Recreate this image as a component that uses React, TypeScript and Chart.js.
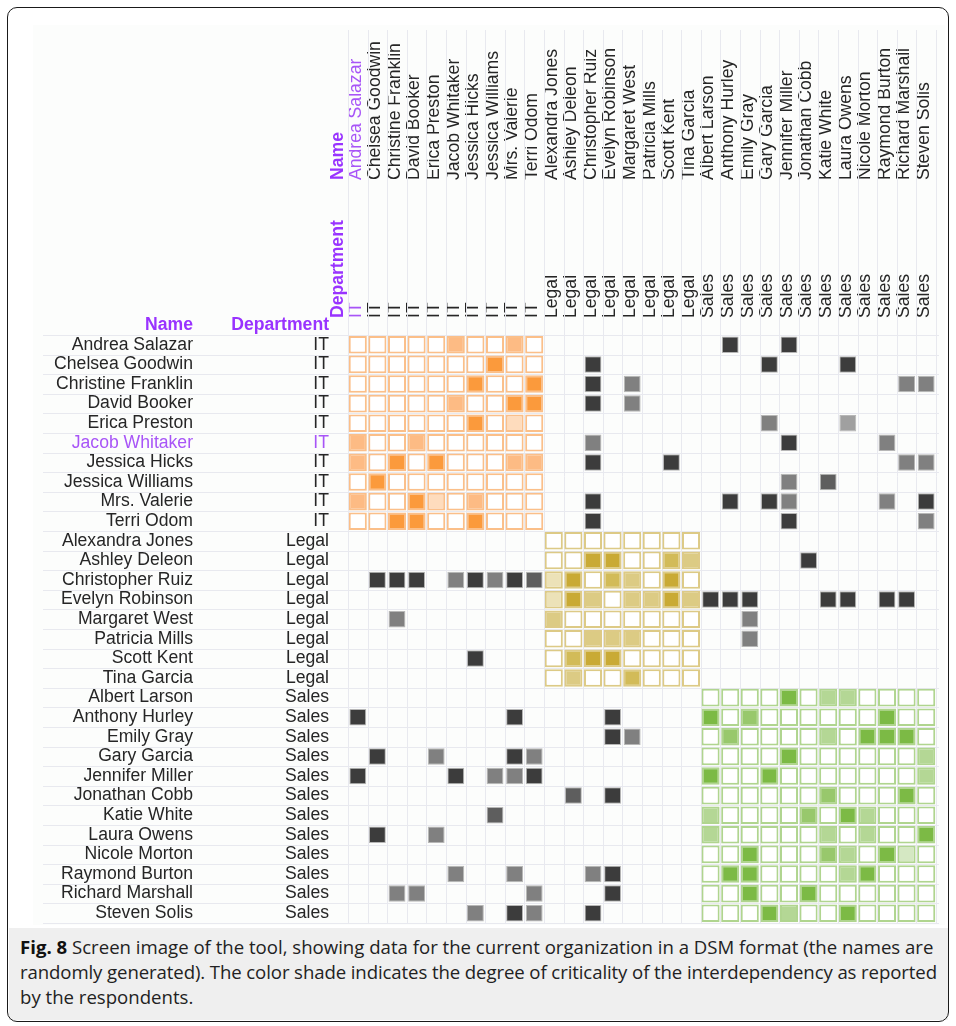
import React, { useEffect, useRef } from 'react';
import { Chart, registerables } from 'chart.js';

Chart.register(...registerables);

// ---------- people ----------
const itNames = [
  'Andrea Salazar', 'Chelsea Goodwin', 'Christine Franklin', 'David Booker', 'Erica Preston',
  'Jacob Whitaker', 'Jessica Hicks', 'Jessica Williams', 'Mrs. Valerie', 'Terri Odom',
];
const legalNames = [
  'Alexandra Jones', 'Ashley Deleon', 'Christopher Ruiz', 'Evelyn Robinson',
  'Margaret West', 'Patricia Mills', 'Scott Kent', 'Tina Garcia',
];
const salesNames = [
  'Albert Larson', 'Anthony Hurley', 'Emily Gray', 'Gary Garcia', 'Jennifer Miller', 'Jonathan Cobb',
  'Katie White', 'Laura Owens', 'Nicole Morton', 'Raymond Burton', 'Richard Marshall', 'Steven Solis',
];

const names = [...itNames, ...legalNames, ...salesNames];
const departments = [
  ...itNames.map(() => 'IT'),
  ...legalNames.map(() => 'Legal'),
  ...salesNames.map(() => 'Sales'),
];

// criticality 0 (none) .. 4 (highest); columns follow `names`
//                IT: 0 1 2 3 4 5 6 7 8 9   Legal: 0 1 2 3 4 5 6 7   Sales: 0 1 2 3 4 5 6 7 8 9 10 11
const itRows = [
  [0, 0, 0, 0, 0, 2, 0, 0, 2, 0, 0, 0, 0, 0, 0, 0, 0, 0, 0, 4, 0, 0, 4, 0, 0, 0, 0, 0, 0, 0],
  [0, 0, 0, 0, 0, 0, 0, 4, 0, 0, 0, 0, 4, 0, 0, 0, 0, 0, 0, 0, 0, 4, 0, 0, 0, 4, 0, 0, 0, 0],
  [0, 0, 0, 0, 0, 0, 4, 0, 0, 4, 0, 0, 4, 0, 2, 0, 0, 0, 0, 0, 0, 0, 0, 0, 0, 0, 0, 0, 2, 2],
  [0, 0, 0, 0, 0, 2, 0, 0, 4, 4, 0, 0, 4, 0, 2, 0, 0, 0, 0, 0, 0, 0, 0, 0, 0, 0, 0, 0, 0, 0],
  [0, 0, 0, 0, 0, 0, 4, 0, 1, 0, 0, 0, 0, 0, 0, 0, 0, 0, 0, 0, 0, 2, 0, 0, 0, 1, 0, 0, 0, 0],
  [2, 0, 0, 2, 0, 0, 0, 0, 0, 0, 0, 0, 2, 0, 0, 0, 0, 0, 0, 0, 0, 0, 4, 0, 0, 0, 0, 2, 0, 0],
  [2, 0, 4, 0, 4, 0, 0, 0, 2, 2, 0, 0, 4, 0, 0, 0, 4, 0, 0, 0, 0, 0, 0, 0, 0, 0, 0, 0, 2, 2],
  [0, 4, 0, 0, 0, 0, 0, 0, 0, 0, 0, 0, 0, 0, 0, 0, 0, 0, 0, 0, 0, 0, 2, 0, 3, 0, 0, 0, 0, 0],
  [2, 0, 0, 4, 1, 0, 2, 0, 0, 0, 0, 0, 4, 0, 0, 0, 0, 0, 0, 4, 0, 4, 2, 0, 0, 0, 0, 2, 0, 4],
  [0, 0, 4, 4, 0, 0, 4, 0, 0, 0, 0, 0, 4, 0, 0, 0, 0, 0, 0, 0, 0, 0, 4, 0, 0, 0, 0, 0, 0, 2],
];
const legalRows = [
  [0, 0, 0, 0, 0, 0, 0, 0, 0, 0, 0, 0, 0, 0, 0, 0, 0, 0, 0, 0, 0, 0, 0, 0, 0, 0, 0, 0, 0, 0],
  [0, 0, 0, 0, 0, 0, 0, 0, 0, 0, 0, 0, 4, 4, 0, 0, 3, 2, 0, 0, 0, 0, 0, 4, 0, 0, 0, 0, 0, 0],
  [0, 4, 4, 4, 0, 2, 4, 2, 4, 3, 1, 4, 0, 3, 2, 0, 4, 0, 0, 0, 0, 0, 0, 0, 0, 0, 0, 0, 0, 0],
  [0, 0, 0, 0, 0, 0, 0, 0, 0, 0, 1, 4, 2, 0, 2, 2, 4, 2, 4, 4, 4, 0, 0, 0, 4, 4, 0, 4, 4, 0],
  [0, 0, 2, 0, 0, 0, 0, 0, 0, 0, 2, 0, 0, 0, 0, 0, 0, 0, 0, 0, 2, 0, 0, 0, 0, 0, 0, 0, 0, 0],
  [0, 0, 0, 0, 0, 0, 0, 0, 0, 0, 0, 0, 2, 2, 2, 0, 0, 0, 0, 0, 2, 0, 0, 0, 0, 0, 0, 0, 0, 0],
  [0, 0, 0, 0, 0, 0, 4, 0, 0, 0, 0, 3, 4, 4, 0, 0, 0, 0, 0, 0, 0, 0, 0, 0, 0, 0, 0, 0, 0, 0],
  [0, 0, 0, 0, 0, 0, 0, 0, 0, 0, 0, 2, 0, 0, 3, 0, 0, 0, 0, 0, 0, 0, 0, 0, 0, 0, 0, 0, 0, 0],
];
const salesRows = [
  [0, 0, 0, 0, 0, 0, 0, 0, 0, 0, 0, 0, 0, 0, 0, 0, 0, 0, 0, 0, 0, 0, 4, 0, 2, 2, 0, 0, 0, 0],
  [4, 0, 0, 0, 0, 0, 0, 0, 4, 0, 0, 0, 0, 4, 0, 0, 0, 0, 4, 0, 3, 0, 0, 0, 0, 0, 0, 4, 0, 0],
  [0, 0, 0, 0, 0, 0, 0, 0, 0, 0, 0, 0, 0, 4, 2, 0, 0, 0, 0, 3, 0, 0, 0, 0, 2, 0, 4, 4, 4, 0],
  [0, 4, 0, 0, 2, 0, 0, 0, 4, 2, 0, 0, 0, 0, 0, 0, 0, 0, 0, 0, 0, 0, 4, 0, 0, 0, 0, 0, 0, 2],
  [4, 0, 0, 0, 0, 4, 0, 2, 2, 4, 0, 0, 0, 0, 0, 0, 0, 0, 4, 0, 0, 4, 0, 0, 0, 0, 0, 0, 0, 2],
  [0, 0, 0, 0, 0, 0, 0, 0, 0, 0, 0, 3, 0, 4, 0, 0, 0, 0, 0, 0, 0, 0, 0, 0, 3, 0, 0, 0, 4, 0],
  [0, 0, 0, 0, 0, 0, 0, 3, 0, 0, 0, 0, 0, 0, 0, 0, 0, 0, 2, 0, 0, 0, 0, 3, 0, 4, 2, 0, 0, 0],
  [0, 4, 0, 0, 2, 0, 0, 0, 0, 0, 0, 0, 0, 0, 0, 0, 0, 0, 2, 0, 0, 0, 0, 0, 2, 0, 2, 0, 0, 4],
  [0, 0, 0, 0, 0, 0, 0, 0, 0, 0, 0, 0, 0, 0, 0, 0, 0, 0, 0, 0, 4, 0, 0, 0, 3, 2, 0, 4, 1, 0],
  [0, 0, 0, 0, 0, 2, 0, 0, 2, 0, 0, 0, 2, 4, 0, 0, 0, 0, 0, 4, 4, 0, 0, 0, 0, 2, 4, 0, 0, 0],
  [0, 0, 2, 2, 0, 0, 0, 0, 0, 2, 0, 0, 0, 4, 0, 0, 0, 0, 0, 0, 4, 0, 0, 4, 0, 0, 0, 0, 0, 0],
  [0, 0, 0, 0, 0, 0, 2, 0, 4, 2, 0, 0, 4, 0, 0, 0, 0, 0, 0, 0, 0, 4, 2, 0, 0, 4, 0, 0, 0, 0],
];

const highlightedRow = 'Jacob Whitaker';
const highlightedColumn = 'Andrea Salazar';

// ---------- styling ----------
const FONT = "'Liberation Sans', Arial, sans-serif";
const FONT_SIZE = 17.6;
const TEXT = '#262626';
const HILITE = '#a855f7';
const HEADER = '#9933ff';
const GRID = '#e8e9ef';

const blockFill: Record<string, string[]> = {
  IT: ['#ffffff', '#fedcbd', '#fdbb84', '#fca866', '#fb9a3c'],
  Legal: ['#ffffff', '#ece2b8', '#dccb84', '#d2bb58', '#c9aa35'],
  Sales: ['#ffffff', '#d5e8c3', '#b4d795', '#98c86c', '#7cba45'],
};
const blockBorder: Record<string, string> = {
  IT: 'rgba(250,150,60,0.6)',
  Legal: 'rgba(200,168,55,0.6)',
  Sales: 'rgba(125,186,70,0.6)',
};
const crossFill = ['#ffffff', '#a0a0a0', '#808080', '#5e5e5e', '#3c3c3c'];

const matrix = [...itRows, ...legalRows, ...salesRows];

type Cell = { x: string; y: [number, number]; v: number; d: string };
const blockCells: Cell[] = [];
const crossCells: Cell[] = [];
matrix.forEach((row, r) => {
  row.forEach((v, c) => {
    if (departments[r] === departments[c]) {
      blockCells.push({ x: names[c], y: [r + 0.05, r + 0.95], v, d: departments[r] });
    } else if (v > 0) {
      crossCells.push({ x: names[c], y: [r + 0.08, r + 0.92], v, d: departments[r] });
    }
  });
});

const gridPlugin = {
  id: 'dsmGrid',
  beforeDatasetsDraw(chart: any) {
    const { ctx, chartArea } = chart;
    const xs = chart.scales.x;
    const ys = chart.scales.y;
    ctx.save();
    ctx.strokeStyle = GRID;
    ctx.lineWidth = 1;
    ctx.beginPath();
    for (let k = 0; k <= names.length; k++) {
      const px = Math.round(xs.getPixelForValue(k - 0.5)) + 0.5;
      ctx.moveTo(px, 5);
      ctx.lineTo(px, chartArea.bottom);
      const py = Math.round(ys.getPixelForValue(k)) + 0.5;
      ctx.moveTo(10, py);
      ctx.lineTo(chartArea.right + 3, py);
    }
    ctx.stroke();
    ctx.restore();
  },
  afterDraw(chart: any) {
    const { ctx, chartArea } = chart;
    const yName = chart.scales.y;
    const yDept = chart.scales.yDept;
    const xName = chart.scales.x;
    const xDept = chart.scales.xDept;
    ctx.save();
    ctx.fillStyle = HEADER;
    ctx.font = `bold ${FONT_SIZE}px ${FONT}`;
    ctx.textBaseline = 'middle';
    ctx.textAlign = 'right';
    const hy = chartArea.top - 10;
    ctx.fillText('Name', yName.right - 4, hy);
    ctx.fillText('Department', yDept.right - 19, hy);
    // rotated headers, left of the first column
    const rx = chartArea.left - 10;
    ctx.textAlign = 'left';
    ctx.save();
    ctx.translate(rx, xName.bottom - 5);
    ctx.rotate(-Math.PI / 2);
    ctx.fillText('Name', 0, 0);
    ctx.restore();
    ctx.save();
    ctx.translate(rx, xDept.bottom - 17);
    ctx.rotate(-Math.PI / 2);
    ctx.fillText('Department', 0, 0);
    ctx.restore();
    ctx.restore();
  },
};

export default function App() {
  const ref = useRef<HTMLCanvasElement>(null);

  useEffect(() => {
    if (!ref.current) return;
    const tickFont = { family: FONT, size: FONT_SIZE };
    const noPad = (s: any) => {
      s.paddingTop = 0;
      s.paddingBottom = 0;
    };
    const chart = new Chart(ref.current, {
      type: 'bar',
      data: {
        labels: names,
        datasets: [
          {
            data: blockCells as any,
            xAxisID: 'x',
            yAxisID: 'y',
            grouped: false,
            barPercentage: 0.92,
            categoryPercentage: 1,
            borderWidth: 2,
            borderSkipped: false,
            backgroundColor: (ctx: any) => {
              const c = ctx.raw as Cell;
              return c ? blockFill[c.d][c.v] : '#fff';
            },
            borderColor: (ctx: any) => {
              const c = ctx.raw as Cell;
              return c ? blockBorder[c.d] : '#fff';
            },
          } as any,
          {
            data: crossCells as any,
            xAxisID: 'x',
            yAxisID: 'y',
            grouped: false,
            barPercentage: 0.86,
            categoryPercentage: 1,
            borderWidth: 1,
            borderSkipped: false,
            backgroundColor: (ctx: any) => {
              const c = ctx.raw as Cell;
              return c ? crossFill[c.v] : '#fff';
            },
            borderColor: 'rgba(175,175,175,0.9)',
          } as any,
        ],
      },
      options: {
        responsive: false,
        animation: false,
        layout: { padding: { top: 10, right: 9, bottom: 2, left: 0 } },
        plugins: {
          legend: { display: false },
          tooltip: { enabled: false },
        },
        scales: {
          x: {
            type: 'category',
            position: 'top',
            weight: 1,
            offset: true,
            labels: names,
            grid: { display: false, drawTicks: false },
            border: { display: false },
            ticks: {
              autoSkip: false,
              minRotation: 90,
              maxRotation: 90,
              padding: 5,
              labelOffset: 19,
              font: tickFont,
              color: (ctx: any) => (names[ctx.index] === highlightedColumn ? HILITE : TEXT),
            },
            afterFit: (s: any) => {
              s.height = 150;
            },
          },
          xDept: {
            type: 'category',
            position: 'top',
            weight: 0,
            offset: true,
            labels: departments,
            grid: { display: false, drawTicks: false },
            border: { display: false },
            ticks: {
              autoSkip: false,
              minRotation: 90,
              maxRotation: 90,
              padding: 17,
              labelOffset: 19,
              font: tickFont,
              color: (ctx: any) => (names[ctx.index] === highlightedColumn ? HILITE : TEXT),
            },
            afterFit: (s: any) => {
              s.height = 150;
            },
          },
          y: {
            type: 'linear',
            position: 'left',
            weight: 1,
            reverse: true,
            min: 0,
            max: names.length,
            grid: { display: false, drawTicks: false },
            border: { display: false },
            afterBuildTicks: (s: any) => {
              s.ticks = names.map((_, i) => ({ value: i + 0.5 }));
            },
            ticks: {
              autoSkip: false,
              padding: 4,
              font: tickFont,
              callback: (_v: any, i: number) => names[i],
              color: (ctx: any) => (names[ctx.index] === highlightedRow ? HILITE : TEXT),
            },
            afterFit: (s: any) => {
              s.width = 164;
              noPad(s);
            },
          },
          yDept: {
            type: 'linear',
            position: 'left',
            weight: 0,
            reverse: true,
            min: 0,
            max: names.length,
            grid: { display: false, drawTicks: false },
            border: { display: false },
            afterBuildTicks: (s: any) => {
              s.ticks = departments.map((_, i) => ({ value: i + 0.5 }));
            },
            ticks: {
              autoSkip: false,
              padding: 19,
              font: tickFont,
              callback: (_v: any, i: number) => departments[i],
              color: (ctx: any) => (names[ctx.index] === highlightedRow ? HILITE : TEXT),
            },
            afterFit: (s: any) => {
              s.width = 151;
              noPad(s);
            },
          },
        },
      } as any,
      plugins: [gridPlugin],
    });
    return () => chart.destroy();
  }, []);

  return (
    <div style={{ position: 'absolute', left: 0, top: 0, width: 956, height: 1026, background: '#ffffff', overflow: 'hidden' }}>
      <canvas
        ref={ref}
        width={912}
        height={900}
        style={{ position: 'absolute', left: 33, top: 25, width: 912, height: 900, background: '#fcfdfc' }}
      />
      <div
        style={{
          position: 'absolute',
          left: 9,
          top: 928,
          width: 939,
          height: 92,
          background: '#efefef',
        }}
      />
      <div
        style={{
          position: 'absolute',
          left: 20,
          top: 934,
          fontFamily: "'Open Sans', 'Noto Sans', sans-serif",
          fontSize: 18.6,
          lineHeight: '25px',
          color: '#222',
          whiteSpace: 'nowrap',
        }}
      >
        <b style={{ color: '#111' }}>Fig. 8</b> Screen image of the tool, showing data for the current organization in a DSM format (the names are
        <br />
        <span style={{ letterSpacing: '-0.1px' }}>
          randomly generated). The color shade indicates the degree of criticality of the interdependency as reported
        </span>
        <br />
        by the respondents.
      </div>
      <div
        style={{
          position: 'absolute',
          left: 7,
          top: 7,
          width: 940,
          height: 1013,
          border: '1.5px solid #1a1a1a',
          borderRadius: 10,
          pointerEvents: 'none',
        }}
      />
    </div>
  );
}
